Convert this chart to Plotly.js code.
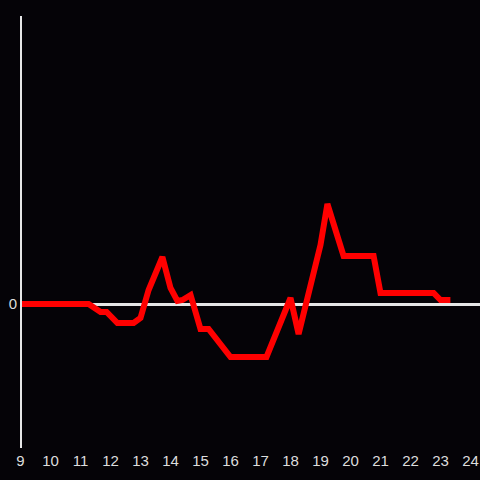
<!DOCTYPE html>
<html>
<head>
<meta charset="utf-8">
<script src="https://cdn.plot.ly/plotly-3.0.1.min.js"></script>
<style>html,body{margin:0;padding:0;background:#050307;}#chart{width:480px;height:480px;}</style>
</head>
<body>
<div id="chart"></div>
<script>
const hours = [9, 11.27, 11.67, 11.87, 12.23, 12.77, 13.0, 13.27, 13.73, 14.0, 14.23, 14.4, 14.67, 15.0, 15.27, 16.0, 17.2, 18.0, 18.27, 19.0, 19.23, 19.77, 20.77, 21.0, 22.77, 23.0, 23.33];
const values = [0, 0, -8, -8, -19, -19, -14, 14, 47, 16, 3, 4, 9, -25, -25, -53, -53, 6, -30, 59, 100, 48, 48, 11, 11, 4, 4];
const xTicks = [9, 10, 11, 12, 13, 14, 15, 16, 17, 18, 19, 20, 21, 22, 23, 24];
const yTicks = [0];
const yTickText = ['0'];

Plotly.newPlot('chart', [{
  x: hours, y: values, type: 'scatter', mode: 'lines',
  line: {color: '#ff0000', width: 6}, hoverinfo: 'none'
}], {
  width: 480, height: 480,
  paper_bgcolor: '#050307', plot_bgcolor: '#050307',
  margin: {l: 20, r: 0, t: 16, b: 32},
  showlegend: false,
  font: {family: 'Liberation Sans, Arial, sans-serif', size: 15, color: '#dddddd'},
  xaxis: {range: [8.9833, 24.3167], tickvals: xTicks, ticktext: xTicks.map(String), showgrid: false, zeroline: false, showline: false, ticks: '', ticklabelstandoff: 2, fixedrange: true},
  yaxis: {range: [-144, 288], tickvals: yTicks, ticktext: yTickText, showgrid: false, zeroline: true, zerolinecolor: '#e6e6e6', zerolinewidth: 3, showline: false, ticks: '', ticklabelstandoff: 2, fixedrange: true},
  shapes: [{type: 'line', xref: 'x', yref: 'paper', x0: 9, x1: 9, y0: 0, y1: 1, layer: 'above', line: {color: '#e6e6e6', width: 3}}]
}, {staticPlot: true});
</script>
</body>
</html>
